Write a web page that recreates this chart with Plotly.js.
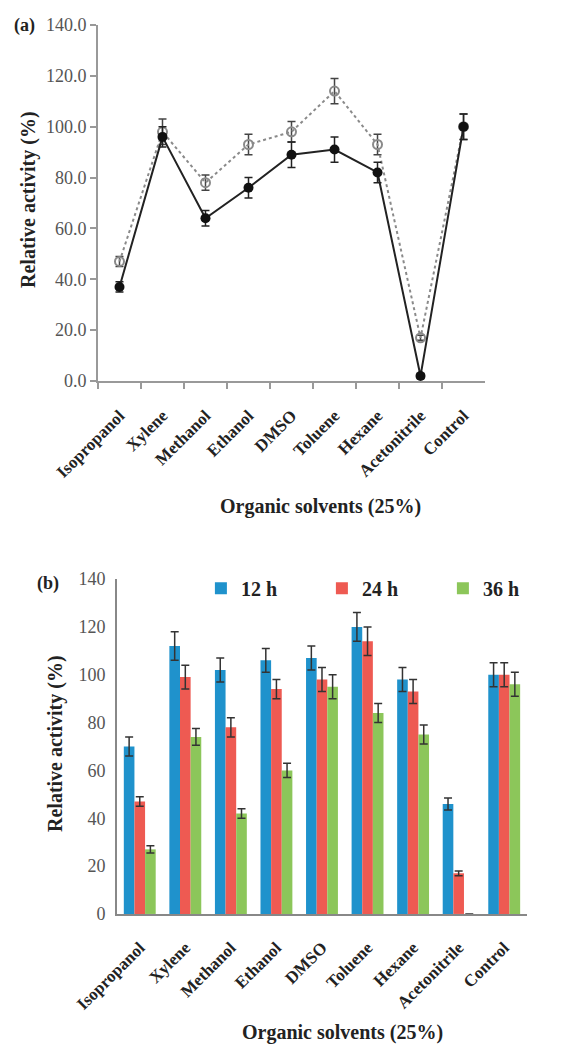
<!DOCTYPE html>
<html><head><meta charset="utf-8">
<script src="https://cdn.plot.ly/plotly-3.0.1.min.js"></script>
<style>html,body{margin:0;padding:0;background:#fff}</style>
</head><body><div id="chart" style="width:574px;height:1045px"></div>
<script>
const solvents = ["Isopropanol","Xylene","Methanol","Ethanol","DMSO","Toluene","Hexane","Acetonitrile","Control"];
// Panel (a)
const aSolid = [37, 96, 64, 76, 89, 91, 82, 2, 100];
const aSolidErr = [2, 4, 3, 4, 5, 5, 4, 1, 5];
const aOpen = [47, 98, 78, 93, 98, 114, 93, 17, 100];
const aOpenErr = [2, 5, 3, 4, 4, 5, 4, 1, 5];
const aTicks = [0, 20, 40, 60, 80, 100, 120, 140];
// Panel (b)
const bNames = ["12 h", "24 h", "36 h"];
const b12 = [70, 112, 102, 106, 107, 120, 98, 46, 100];
const b12Err = [4, 6, 5, 5, 5, 6, 5, 2.5, 5];
const b24 = [47, 99, 78, 94, 98, 114, 93, 17, 100];
const b24Err = [2, 5, 4, 4, 5, 6, 5, 1, 5];
const b36 = [27, 74, 42, 60, 95, 84, 75, 0, 96];
const b36Err = [1.5, 3.5, 2, 3, 5, 4, 4, 0, 5];
const bTicks = [0, 20, 40, 60, 80, 100, 120, 140];

const serif = "Liberation Serif, Times New Roman, serif";
const barColors = ["#1f92cc", "#ee5a52", "#8cc65a"];

const traces = [
  {x: solvents, y: aOpen, type: "scatter", mode: "lines+markers", xaxis: "x", yaxis: "y",
   line: {color: "#8a8a8a", width: 2, dash: "dot"},
   marker: {symbol: "circle-open", size: 9, color: "#8a8a8a", line: {width: 2, color: "#8a8a8a"}},
   error_y: {type: "data", array: aOpenErr, visible: true, color: "#444", thickness: 1.5, width: 4},
   showlegend: false},
  {x: solvents, y: aSolid, type: "scatter", mode: "lines+markers", xaxis: "x", yaxis: "y",
   line: {color: "#222", width: 2},
   marker: {symbol: "circle", size: 10, color: "#111"},
   error_y: {type: "data", array: aSolidErr, visible: true, color: "#222", thickness: 1.5, width: 4},
   showlegend: false}
];
const bVals = [b12, b24, b36], bErrs = [b12Err, b24Err, b36Err];
bNames.forEach((n, i) => traces.push({
  x: solvents, y: bVals[i], name: n, type: "bar", xaxis: "x2", yaxis: "y2",
  marker: {color: barColors[i]},
  error_y: {type: "data", array: bErrs[i], visible: true, color: "#333", thickness: 1.5, width: 4}
}));

const tickFont = {family: serif, size: 18, color: "#555"};
const catFont = {family: serif, size: 17, color: "#222", weight: "bold"};
const titleFont = {family: serif, size: 20, color: "#222", weight: "bold"};

const layout = {
  width: 574, height: 1045, margin: {l: 0, r: 0, t: 0, b: 0},
  paper_bgcolor: "#fff", plot_bgcolor: "#fff",
  barmode: "group", bargap: 0.3, bargroupgap: 0,
  xaxis: {domain: [0.1707, 0.845], anchor: "y", type: "category", range: [-0.5, 8.5],
    showline: true, linecolor: "#999", linewidth: 2, ticks: "outside", tickson: "boundaries",
    ticklen: 6, tickwidth: 2, tickcolor: "#999", tickangle: -45, tickfont: catFont,
    ticklabelstandoff: 16, showgrid: false, zeroline: false},
  yaxis: {domain: [0.6354, 0.9761], anchor: "x", range: [0, 140], tickvals: aTicks,
    ticktext: aTicks.map(v => v.toFixed(1)), showline: true, linecolor: "#999", linewidth: 2,
    ticks: "outside", ticklen: 6, tickwidth: 2, tickcolor: "#999", tickfont: tickFont,
    showgrid: false, zeroline: false},
  xaxis2: {domain: [0.2038, 0.9181], anchor: "y2", type: "category", range: [-0.5, 8.5],
    showline: true, linecolor: "#888", linewidth: 2, ticks: "", tickangle: -45, tickfont: catFont,
    ticklabelstandoff: 15, showgrid: false, zeroline: false},
  yaxis2: {domain: [0.1254, 0.4459], anchor: "x2", range: [0, 140], tickvals: bTicks,
    showline: true, linecolor: "#888", linewidth: 2, ticks: "", ticklabelstandoff: 6,
    tickfont: tickFont, showgrid: false, zeroline: false},
  legend: {orientation: "h", x: 0.35, xanchor: "left", y: 0.437, yanchor: "middle",
    font: {family: serif, size: 20, color: "#222", weight: "bold"},
    entrywidth: 76, entrywidthmode: "pixels", bgcolor: "rgba(0,0,0,0)"},
  annotations: [
    {text: "(a)", x: 12, y: 25},
    {text: "(b)", x: 35, y: 583},
    {text: "Relative activity (%)", x: 28, y: 200, textangle: -90},
    {text: "Organic solvents (25%)", x: 320, y: 507},
    {text: "Relative activity (%)", x: 55, y: 744, textangle: -90},
    {text: "Organic solvents (25%)", x: 342, y: 1032}
  ].map((a, i) => Object.assign({}, a, {
    xref: "paper", yref: "paper", x: a.x / 574, y: 1 - a.y / 1045, showarrow: false,
    xanchor: i < 2 ? "left" : "center", yanchor: "middle",
    font: i < 2 ? {family: serif, size: 18, color: "#222", weight: "bold"} : titleFont
  }))
};
Plotly.newPlot("chart", traces, layout, {displayModeBar: false, staticPlot: true});
</script></body></html>
